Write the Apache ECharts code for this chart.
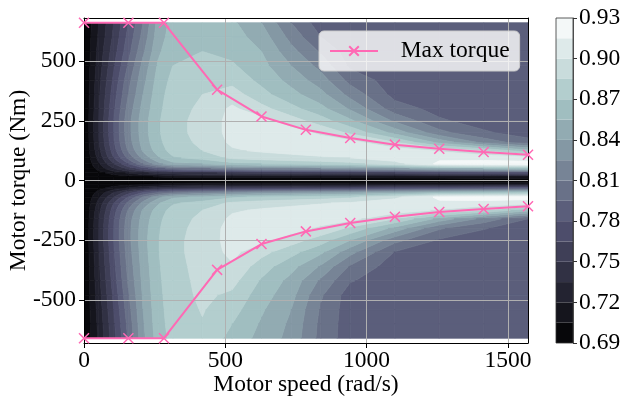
<!DOCTYPE html>
<html>
<head>
<meta charset="utf-8">
<script src="https://cdn.jsdelivr.net/npm/echarts@6/dist/echarts.min.js"></script>
<style>
html,body{margin:0;padding:0;background:#fff;}
#chart{width:624px;height:397px;}
</style>
</head>
<body>
<div id="chart"></div>
<script>
// ---------------- data ----------------
const speeds = [0, 52, 105, 157, 209, 262, 314, 419, 524, 628, 733, 838, 942, 1100, 1257, 1414, 1571];
const torques = [660, 600, 540, 480, 420, 360, 300, 250, 200, 160, 125, 95, 70, 50, 32, 16, 0,
  -16, -32, -50, -70, -95, -125, -160, -200, -250, -300, -360, -420, -480, -540, -600, -660];
const efficiency = [
  [0.69, 0.72, 0.75, 0.78, 0.81, 0.845, 0.86, 0.862, 0.858, 0.84, 0.81, 0.787, 0.787, 0.787, 0.787, 0.787, 0.787],
  [0.69, 0.722, 0.753, 0.785, 0.815, 0.848, 0.862, 0.866, 0.862, 0.848, 0.82, 0.795, 0.787, 0.787, 0.787, 0.787, 0.787],
  [0.69, 0.725, 0.758, 0.79, 0.822, 0.852, 0.866, 0.87, 0.866, 0.855, 0.83, 0.808, 0.787, 0.787, 0.787, 0.787, 0.787],
  [0.69, 0.727, 0.763, 0.797, 0.83, 0.857, 0.87, 0.874, 0.872, 0.86, 0.84, 0.82, 0.792, 0.787, 0.787, 0.787, 0.787],
  [0.69, 0.73, 0.768, 0.805, 0.835, 0.861, 0.874, 0.878, 0.88, 0.866, 0.85, 0.832, 0.805, 0.787, 0.787, 0.787, 0.787],
  [0.69, 0.732, 0.773, 0.81, 0.84, 0.864, 0.877, 0.885, 0.892, 0.875, 0.86, 0.845, 0.82, 0.79, 0.787, 0.787, 0.787],
  [0.69, 0.734, 0.777, 0.816, 0.845, 0.866, 0.879, 0.888, 0.903, 0.89, 0.875, 0.86, 0.838, 0.802, 0.79, 0.787, 0.787],
  [0.69, 0.735, 0.78, 0.82, 0.848, 0.868, 0.88, 0.89, 0.905, 0.905, 0.892, 0.877, 0.858, 0.822, 0.797, 0.789, 0.787],
  [0.69, 0.735, 0.78, 0.82, 0.848, 0.868, 0.88, 0.89, 0.905, 0.907, 0.907, 0.897, 0.882, 0.85, 0.815, 0.797, 0.789],
  [0.69, 0.734, 0.778, 0.818, 0.846, 0.866, 0.879, 0.888, 0.903, 0.906, 0.908, 0.908, 0.905, 0.885, 0.85, 0.82, 0.80],
  [0.69, 0.73, 0.773, 0.812, 0.842, 0.862, 0.876, 0.885, 0.898, 0.902, 0.905, 0.907, 0.908, 0.908, 0.898, 0.885, 0.86],
  [0.69, 0.725, 0.765, 0.80, 0.83, 0.853, 0.868, 0.875, 0.888, 0.892, 0.895, 0.898, 0.90, 0.907, 0.912, 0.91, 0.905],
  [0.69, 0.718, 0.75, 0.78, 0.81, 0.835, 0.85, 0.855, 0.865, 0.87, 0.873, 0.876, 0.88, 0.895, 0.918, 0.921, 0.922],
  [0.69, 0.71, 0.735, 0.755, 0.775, 0.79, 0.80, 0.808, 0.815, 0.82, 0.822, 0.825, 0.828, 0.835, 0.85, 0.855, 0.86],
  [0.69, 0.70, 0.712, 0.722, 0.732, 0.74, 0.745, 0.748, 0.752, 0.755, 0.757, 0.758, 0.76, 0.765, 0.77, 0.775, 0.78],
  [0.69, 0.692, 0.697, 0.70, 0.703, 0.706, 0.708, 0.71, 0.71, 0.71, 0.71, 0.71, 0.71, 0.712, 0.714, 0.716, 0.718],
  [0.69, 0.69, 0.69, 0.69, 0.69, 0.69, 0.69, 0.69, 0.69, 0.69, 0.69, 0.69, 0.69, 0.69, 0.69, 0.69, 0.69],
  [0.69, 0.692, 0.697, 0.70, 0.703, 0.706, 0.708, 0.712, 0.712, 0.712, 0.712, 0.712, 0.712, 0.714, 0.715, 0.717, 0.72],
  [0.69, 0.70, 0.712, 0.722, 0.732, 0.74, 0.745, 0.75, 0.755, 0.758, 0.76, 0.762, 0.765, 0.77, 0.775, 0.78, 0.785],
  [0.69, 0.71, 0.735, 0.758, 0.78, 0.795, 0.805, 0.815, 0.822, 0.828, 0.832, 0.835, 0.838, 0.845, 0.855, 0.86, 0.865],
  [0.69, 0.718, 0.75, 0.782, 0.812, 0.836, 0.852, 0.858, 0.868, 0.872, 0.875, 0.878, 0.882, 0.897, 0.918, 0.921, 0.922],
  [0.69, 0.725, 0.765, 0.80, 0.83, 0.853, 0.868, 0.876, 0.888, 0.893, 0.896, 0.899, 0.902, 0.908, 0.912, 0.91, 0.905],
  [0.69, 0.73, 0.773, 0.812, 0.842, 0.862, 0.876, 0.885, 0.898, 0.902, 0.905, 0.907, 0.908, 0.908, 0.898, 0.885, 0.86],
  [0.69, 0.734, 0.778, 0.818, 0.846, 0.866, 0.879, 0.888, 0.903, 0.906, 0.908, 0.908, 0.905, 0.885, 0.85, 0.82, 0.795],
  [0.69, 0.735, 0.78, 0.82, 0.848, 0.868, 0.88, 0.89, 0.906, 0.908, 0.907, 0.897, 0.882, 0.85, 0.812, 0.796, 0.787],
  [0.69, 0.735, 0.78, 0.82, 0.849, 0.869, 0.881, 0.891, 0.906, 0.904, 0.892, 0.877, 0.855, 0.815, 0.793, 0.787, 0.787],
  [0.69, 0.734, 0.778, 0.818, 0.848, 0.869, 0.881, 0.891, 0.904, 0.89, 0.875, 0.858, 0.83, 0.794, 0.787, 0.787, 0.787],
  [0.69, 0.732, 0.775, 0.815, 0.846, 0.868, 0.88, 0.89, 0.898, 0.877, 0.86, 0.838, 0.808, 0.787, 0.787, 0.787, 0.787],
  [0.69, 0.73, 0.772, 0.812, 0.844, 0.867, 0.879, 0.889, 0.89, 0.868, 0.85, 0.822, 0.796, 0.787, 0.787, 0.787, 0.787],
  [0.69, 0.728, 0.768, 0.808, 0.842, 0.866, 0.878, 0.888, 0.882, 0.862, 0.845, 0.812, 0.787, 0.787, 0.787, 0.787, 0.787],
  [0.69, 0.726, 0.765, 0.804, 0.84, 0.865, 0.877, 0.886, 0.876, 0.857, 0.84, 0.808, 0.787, 0.787, 0.787, 0.787, 0.787],
  [0.69, 0.724, 0.762, 0.80, 0.838, 0.864, 0.876, 0.884, 0.87, 0.853, 0.837, 0.806, 0.787, 0.787, 0.787, 0.787, 0.787],
  [0.69, 0.722, 0.76, 0.797, 0.836, 0.862, 0.875, 0.882, 0.865, 0.85, 0.835, 0.805, 0.787, 0.787, 0.787, 0.787, 0.787]
];
const levels = [0.69, 0.705, 0.72, 0.735, 0.75, 0.765, 0.78, 0.795, 0.81, 0.825, 0.84, 0.855, 0.87, 0.885, 0.9, 0.915, 0.93];
const maxSpeed = [0, 157, 283, 471, 628, 785, 942, 1100, 1257, 1414, 1571];
const maxTorqueMotor = [660, 660, 660, 380, 268, 212, 178, 150, 133, 119, 108];
const maxTorqueRegen = [-660, -660, -660, -374, -266, -213, -178, -152, -132, -119, -108];
const speedTicks = [0, 500, 1000, 1500];
const torqueTicks = [-500, -250, 0, 250, 500];
const effTicks = [0.69, 0.72, 0.75, 0.78, 0.81, 0.84, 0.87, 0.90, 0.93];

// ---------------- styles ----------------
const FONT = "'Liberation Serif', 'Times New Roman', serif";
const FS = 23.5;
const PINK = '#ff69b4';
function bone(t) {
  const r = t < 0.746032 ? 0.652778 * t / 0.746032 : 0.652778 + (t - 0.746032) * (1 - 0.652778) / (1 - 0.746032);
  const g = t < 0.365079 ? 0.319444 * t / 0.365079
    : (t < 0.746032 ? 0.319444 + (t - 0.365079) * (0.777778 - 0.319444) / (0.746032 - 0.365079)
      : 0.777778 + (t - 0.746032) * (1 - 0.777778) / (1 - 0.746032));
  const b = t < 0.365079 ? 0.444444 * t / 0.365079 : 0.444444 + (t - 0.365079) * (1 - 0.444444) / (1 - 0.365079);
  return 'rgb(' + Math.round(r * 255) + ',' + Math.round(g * 255) + ',' + Math.round(b * 255) + ')';
}
const nBands = levels.length - 1;
const bandColors = [];
for (let k = 0; k < nBands; k++) bandColors.push(bone((k + 0.5) / nBands));

// ---------------- contour helpers ----------------
function clipPoly(poly, level, keepAbove) {
  if (!isFinite(level)) return poly;
  const out = [];
  const inside = p => keepAbove ? p[2] >= level : p[2] <= level;
  for (let i = 0; i < poly.length; i++) {
    const a = poly[i], b = poly[(i + 1) % poly.length];
    const ia = inside(a), ib = inside(b);
    if (ia) out.push(a);
    if (ia !== ib) {
      const t = (level - a[2]) / (b[2] - a[2]);
      out.push([a[0] + t * (b[0] - a[0]), a[1] + t * (b[1] - a[1]), level]);
    }
  }
  return out;
}
const cells = [];
for (let r = 0; r < torques.length - 1; r++) {
  for (let c = 0; c < speeds.length - 1; c++) {
    cells.push([speeds[c], torques[r], c, r]);
  }
}
function renderCell(params, api) {
  const c = api.value(2), r = api.value(3);
  const quad = [
    [speeds[c], torques[r], efficiency[r][c]],
    [speeds[c + 1], torques[r], efficiency[r][c + 1]],
    [speeds[c + 1], torques[r + 1], efficiency[r + 1][c + 1]],
    [speeds[c], torques[r + 1], efficiency[r + 1][c]]
  ];
  const children = [];
  for (let k = 0; k < nBands; k++) {
    const lo = k === 0 ? -Infinity : levels[k];
    const hi = k === nBands - 1 ? Infinity : levels[k + 1];
    let poly = clipPoly(quad, lo, true);
    if (poly.length < 3) continue;
    poly = clipPoly(poly, hi, false);
    if (poly.length < 3) continue;
    children.push({
      type: 'polygon',
      shape: { points: poly.map(p => api.coord([p[0], p[1]])) },
      style: { fill: bandColors[k], stroke: bandColors[k], lineWidth: 0.8 },
      silent: true
    });
  }
  return { type: 'group', children: children };
}
const bandData = [];
for (let k = 0; k < nBands; k++) bandData.push([0, levels[k], k]);
bandData.push([0, levels[0], -1]);
function renderBand(params, api) {
  const k = api.value(2);
  if (k < 0) {
    const p0 = api.coord([0, levels[levels.length - 1]]);
    const p1 = api.coord([1, levels[0]]);
    return { type: 'rect', shape: { x: p0[0], y: p0[1], width: p1[0] - p0[0], height: p1[1] - p0[1] },
      style: { fill: 'none', stroke: '#333', lineWidth: 0.8 }, silent: true, z2: 10 };
  }
  const a = api.coord([0, levels[k + 1]]);
  const b = api.coord([1, levels[k]]);
  return { type: 'rect', shape: { x: a[0], y: a[1], width: b[0] - a[0], height: b[1] - a[1] },
    style: { fill: bandColors[k] }, silent: true };
}

const labelStyle = { fontFamily: FONT, fontSize: FS, color: '#000' };
const chart = echarts.init(document.getElementById('chart'), null, { renderer: 'canvas' });
chart.setOption({
  animation: false,
  backgroundColor: '#fff',
  grid: [
    { left: 84, right: 96, top: 18, bottom: 54, containLabel: false, outerBoundsMode: 'none' },
    { left: 556, width: 17, top: 18, bottom: 54, containLabel: false, outerBoundsMode: 'none' }
  ],
  legend: {
    data: ['Max torque'],
    left: 319, top: 31,
    padding: [8, 10, 8, 10],
    itemWidth: 48, itemHeight: 12,
    backgroundColor: 'rgba(255,255,255,0.8)',
    borderColor: '#cccccc', borderWidth: 1, borderRadius: 5,
    textStyle: labelStyle,
    formatter: name => '   ' + name,
    selectedMode: false,
    z: 10
  },
  xAxis: [
    {
      type: 'value', gridIndex: 0, min: 0, max: 1571, z: 5,
      name: 'Motor speed (rad/s)', nameLocation: 'middle', nameGap: 30, nameMoveOverlap: false,
      nameTextStyle: labelStyle,
      axisLine: { show: true, onZero: false, lineStyle: { color: '#000', width: 1 } },
      axisTick: { show: true, length: 5, customValues: speedTicks, lineStyle: { color: '#000' } },
      axisLabel: { customValues: speedTicks, margin: 6, formatter: v => String(v), ...labelStyle },
      splitLine: { show: true, lineStyle: { color: '#b0b0b0', width: 1 } }
    },
    {
      type: 'value', gridIndex: 1, min: 0, max: 1, show: false
    },
    {
      type: 'value', gridIndex: 0, min: 0, max: 1571, position: 'top', z: 5,
      axisLine: { show: true, onZero: false, lineStyle: { color: '#000', width: 1 } },
      axisTick: { show: false }, axisLabel: { show: false }, splitLine: { show: false }
    }
  ],
  yAxis: [
    {
      type: 'value', gridIndex: 0, min: -680, max: 680, z: 5,
      name: 'Motor torque (Nm)', nameLocation: 'middle', nameGap: 53, nameMoveOverlap: false,
      nameTextStyle: labelStyle,
      axisLine: { show: true, onZero: false, lineStyle: { color: '#000', width: 1 } },
      axisTick: { show: true, length: 5, customValues: torqueTicks, lineStyle: { color: '#000' } },
      axisLabel: { customValues: torqueTicks, margin: 8, formatter: v => String(v), ...labelStyle },
      splitLine: { show: true, lineStyle: { color: '#b0b0b0', width: 1 } }
    },
    {
      type: 'value', gridIndex: 1, min: 0.69, max: 0.93, position: 'right', z: 5,
      axisLine: { show: true, onZero: false, lineStyle: { color: '#333', width: 0.8 } },
      axisTick: { show: true, length: 4, customValues: effTicks, lineStyle: { color: '#333' } },
      axisLabel: { customValues: effTicks, margin: 6, formatter: v => v.toFixed(2), ...labelStyle },
      splitLine: { show: false }
    },
    {
      type: 'value', gridIndex: 0, min: -680, max: 680, position: 'right', z: 5,
      axisLine: { show: true, onZero: false, lineStyle: { color: '#000', width: 1 } },
      axisTick: { show: false }, axisLabel: { show: false }, splitLine: { show: false }
    }
  ],
  series: [
    {
      type: 'custom', name: 'efficiency', xAxisIndex: 0, yAxisIndex: 0,
      data: cells, encode: { x: 0, y: 1 }, renderItem: renderCell, clip: true, z: 1, silent: true
    },
    {
      type: 'custom', name: 'colorbar', xAxisIndex: 1, yAxisIndex: 1,
      data: bandData, encode: { x: 0, y: 1 }, renderItem: renderBand, z: 1, silent: true
    },
    {
      type: 'line', name: 'Max torque', xAxisIndex: 0, yAxisIndex: 0,
      data: maxSpeed.map((s, i) => [s, maxTorqueMotor[i]]),
      symbol: 'path://M0,0L10,10M10,0L0,10', symbolSize: 10, showSymbol: true,
      lineStyle: { color: PINK, width: 2 },
      itemStyle: { color: PINK, borderColor: PINK, borderWidth: 1.5 },
      z: 6, silent: true, clip: true
    },
    {
      type: 'line', name: 'Max torque', xAxisIndex: 0, yAxisIndex: 0,
      data: maxSpeed.map((s, i) => [s, maxTorqueRegen[i]]),
      symbol: 'path://M0,0L10,10M10,0L0,10', symbolSize: 10, showSymbol: true,
      lineStyle: { color: PINK, width: 2 },
      itemStyle: { color: PINK, borderColor: PINK, borderWidth: 1.5 },
      z: 6, silent: true, clip: true
    }
  ]
});
</script>
</body>
</html>
